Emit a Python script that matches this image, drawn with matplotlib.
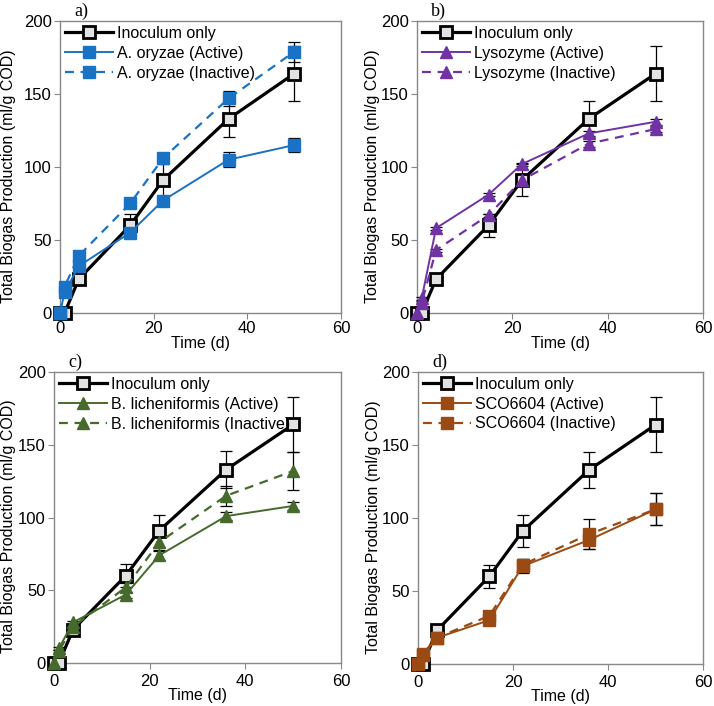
import matplotlib
matplotlib.use("Agg")
import matplotlib.pyplot as plt
import numpy as np

plt.rcParams['font.family'] = ['Liberation Sans', 'DejaVu Sans']

time = [0, 1, 4, 15, 22, 36, 50]

inoc = [0, 0, 23, 60, 91, 133, 164]
inoc_err = [0, 0, 2, 8, 11, 12.5, 19]

# panel a
aory_act = [0, 14, 32, 55, 77, 105, 115]
aory_act_err = [0, 2, 2, 2, 3, 5, 5]
aory_ina = [0, 18, 39, 75, 106, 147, 179]
aory_ina_err = [0, 2, 2, 2, 3, 5, 7]

# panel b
lys_act = [0, 10, 58, 81, 102, 123, 131]
lys_act_err = [0, 1, 1, 1, 1, 2, 2]
lys_ina = [0, 7, 43, 67, 91, 116, 126]
lys_ina_err = [0, 1, 1, 1, 2, 2, 2]

# panel c
bli_act = [0, 10, 28, 47, 74, 101, 108]
bli_act_err = [0, 1, 1, 2, 3, 3, 3]
bli_ina = [0, 8, 25, 52, 83, 115, 132]
bli_ina_err = [0, 1, 2, 3, 5, 7, 13]

# panel d
sco_act = [0, 6, 18, 30, 67, 85, 106]
sco_act_err = [0, 1, 1, 2, 5, 6, 11]
sco_ina = [0, 7, 18, 33, 68, 89, 106]
sco_ina_err = [0, 1, 1, 2, 4, 10, 11]

panels = [
    dict(label='a)', name='A. oryzae', color='#1a72c4', marker='s',
         act=aory_act, act_err=aory_act_err, ina=aory_ina, ina_err=aory_ina_err,
         rect=[0.084, 0.557, 0.3936, 0.413], ylx=-0.155, xpad=2, xlp=0),
    dict(label='b)', name='Lysozyme', color='#7132a4', marker='^',
         act=lys_act, act_err=lys_act_err, ina=lys_ina, ina_err=lys_ina_err,
         rect=[0.584, 0.557, 0.401, 0.413], ylx=-0.128, xpad=2, xlp=0),
    dict(label='c)', name='B. licheniformis', color='#466a2c', marker='^',
         act=bli_act, act_err=bli_act_err, ina=bli_ina, ina_err=bli_ina_err,
         rect=[0.0756, 0.0609, 0.402, 0.412], ylx=-0.132, xpad=4, xlp=-1),
    dict(label='d)', name='SCO6604', color='#9a4a12', marker='s',
         act=sco_act, act_err=sco_act_err, ina=sco_ina, ina_err=sco_ina_err,
         rect=[0.5854, 0.0595, 0.3996, 0.4135], ylx=-0.131, xpad=4, xlp=-1),
]

fig = plt.figure(figsize=(7.14, 7.06), dpi=100)
ebkw = dict(fmt='none', ecolor='black', elinewidth=0.9, capsize=4, capthick=0.9,
            clip_on=False)

for p in panels:
    ax = fig.add_axes(p['rect'])
    ms = 8 if p['marker'] == 's' else 9
    ax.errorbar(time, inoc, yerr=inoc_err, zorder=2, **ebkw)
    ax.errorbar(time, p['act'], yerr=p['act_err'], zorder=2, **ebkw)
    ax.errorbar(time, p['ina'], yerr=p['ina_err'], zorder=2, **ebkw)
    ax.plot(time, inoc, color='black', lw=2.3, marker='s', ms=9, mfc='#e2e2e2',
            mec='black', mew=2.0, label='Inoculum only', zorder=3, clip_on=False)
    ax.plot(time, p['act'], color=p['color'], lw=1.4, marker=p['marker'], ms=ms,
            label=p['name'] + ' (Active)', zorder=4, clip_on=False)
    ax.plot(time, p['ina'], color=p['color'], lw=1.6, ls=(0, (4, 3)),
            marker=p['marker'], ms=ms, label=p['name'] + ' (Inactive)', zorder=5,
            clip_on=False)
    ax.set_xlim(0, 60)
    ax.set_ylim(0, 200)
    ax.set_xticks([0, 20, 40, 60])
    ax.set_yticks([0, 50, 100, 150, 200])
    ax.tick_params(labelsize=12, direction='out', length=4, color='#888888', pad=2)
    ax.tick_params(axis='x', pad=p['xpad'])
    for s in ax.spines.values():
        s.set_color('#888888')
        s.set_linewidth(1.0)
        s.set_zorder(1)
    ax.set_xlabel('Time (d)', fontsize=11.5, labelpad=p['xlp'])
    ax.set_ylabel('Total Biogas Production (ml/g COD)', fontsize=11.5)
    ax.yaxis.set_label_coords(p['ylx'], 0.47)
    ax.legend(loc='upper left', frameon=False, fontsize=11.5,
              handlelength=3.0, handletextpad=0.3, labelspacing=0.3,
              borderaxespad=0.1, borderpad=0.2)
    ax.text(0.05, 1.005, p['label'], transform=ax.transAxes, fontsize=13,
            family='Liberation Serif', ha='left', va='bottom')

fig.savefig('out.png', dpi=100)
